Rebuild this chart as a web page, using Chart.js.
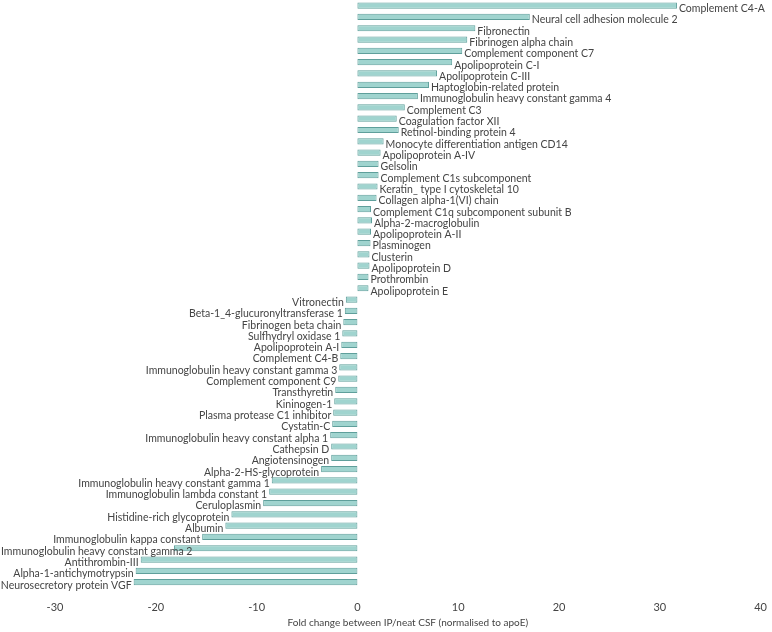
<!DOCTYPE html>
<html lang="en">
<head>
    <meta charset="UTF-8">
    <title>Fold change IP/neat CSF</title>
    <style>
        body { margin: 0; background: #fff; }
    </style>
</head>
<body>
    <canvas id="myChart" width="772" height="632"></canvas>

    <script src="https://cdn.jsdelivr.net/npm/chart.js"></script>
    <script>
    const proteins = [
        'Complement C4-A', 'Neural cell adhesion molecule 2', 'Fibronectin', 'Fibrinogen alpha chain',
        'Complement component C7', 'Apolipoprotein C-I', 'Apolipoprotein C-III', 'Haptoglobin-related protein',
        'Immunoglobulin heavy constant gamma 4', 'Complement C3', 'Coagulation factor XII', 'Retinol-binding protein 4',
        'Monocyte differentiation antigen CD14', 'Apolipoprotein A-IV', 'Gelsolin', 'Complement C1s subcomponent',
        'Keratin_ type I cytoskeletal 10', 'Collagen alpha-1(VI) chain', 'Complement C1q subcomponent subunit B',
        'Alpha-2-macroglobulin', 'Apolipoprotein A-II', 'Plasminogen', 'Clusterin', 'Apolipoprotein D',
        'Prothrombin', 'Apolipoprotein E',
        'Vitronectin', 'Beta-1_4-glucuronyltransferase 1', 'Fibrinogen beta chain', 'Sulfhydryl oxidase 1',
        'Apolipoprotein A-I', 'Complement C4-B', 'Immunoglobulin heavy constant gamma 3', 'Complement component C9',
        'Transthyretin', 'Kininogen-1', 'Plasma protease C1 inhibitor', 'Cystatin-C',
        'Immunoglobulin heavy constant alpha 1', 'Cathepsin D', 'Angiotensinogen', 'Alpha-2-HS-glycoprotein',
        'Immunoglobulin heavy constant gamma 1', 'Immunoglobulin lambda constant 1', 'Ceruloplasmin',
        'Histidine-rich glycoprotein', 'Albumin', 'Immunoglobulin kappa constant',
        'Immunoglobulin heavy constant gamma 2', 'Antithrombin-III', 'Alpha-1-antichymotrypsin',
        'Neurosecretory protein VGF'
    ];

    const foldChange = [
        31.7, 17.1, 11.7, 10.9, 10.4, 9.4, 7.9, 7.1, 6.0, 4.7, 3.9, 4.1, 2.6, 2.3, 2.1, 2.1,
        2.0, 1.9, 1.35, 1.45, 1.35, 1.3, 1.2, 1.2, 1.1, 1.1,
        -1.15, -1.25, -1.4, -1.5, -1.6, -1.7, -1.8, -1.9, -2.2, -2.3, -2.4, -2.5, -2.7, -2.6,
        -2.6, -3.6, -8.5, -8.75, -9.35, -12.5, -13.1, -15.4, -18.2, -21.5, -22.0, -22.2
    ];

    const xMin = -30, xMax = 40, xStep = 10;

    // write the protein name next to the end of each bar
    // (negative labels that would fall off the left edge get pushed back in)
    const barLabels = {
        id: 'barLabels',
        afterDatasetsDraw(chart) {
            const c = chart.ctx;
            const meta = chart.getDatasetMeta(0);
            c.save();
            c.font = '10.5px Lato';
            c.fillStyle = '#444';
            c.textBaseline = 'middle';
            meta.data.forEach((bar, i) => {
                const name = proteins[i];
                if (foldChange[i] >= 0) {
                    c.textAlign = 'left';
                    c.fillText(name, bar.x + 2, bar.y + 3);
                } else {
                    const w = c.measureText(name).width;
                    if (bar.x - 2 - w < 0) {
                        c.textAlign = 'left';
                        c.fillText(name, 1, bar.y + 3);
                    } else {
                        c.textAlign = 'right';
                        c.fillText(name, bar.x - 2, bar.y + 3);
                    }
                }
            });
            c.restore();
        }
    };

    const ctx = document.getElementById('myChart');
    new Chart(ctx, {
        type: 'bar',
        data: {
            labels: proteins,
            datasets: [{
                data: foldChange,
                backgroundColor: '#a0d4cf',
                borderColor: '#5f9f9b',
                borderWidth: 1,
                borderSkipped: false,
                barPercentage: 0.55,
                categoryPercentage: 1
            }]
        },
        options: {
            indexAxis: 'y',
            responsive: false,
            animation: false,
            layout: { padding: { left: 55, right: 9, top: 0, bottom: 3 } },
            plugins: {
                legend: { display: false },
                tooltip: { enabled: false }
            },
            scales: {
                y: { display: false },
                x: {
                    min: xMin,
                    max: xMax,
                    grid: { display: false },
                    border: { display: false },
                    ticks: {
                        stepSize: xStep,
                        color: '#444',
                        padding: 5,
                        font: { family: 'Lato', size: 11 }
                    },
                    title: {
                        display: true,
                        text: 'Fold change between IP/neat CSF (normalised to apoE)',
                        color: '#444',
                        padding: { top: -2, bottom: 0 },
                        font: { family: 'Lato', size: 10 }
                    }
                }
            }
        },
        plugins: [barLabels]
    });
    </script>
</body>
</html>
